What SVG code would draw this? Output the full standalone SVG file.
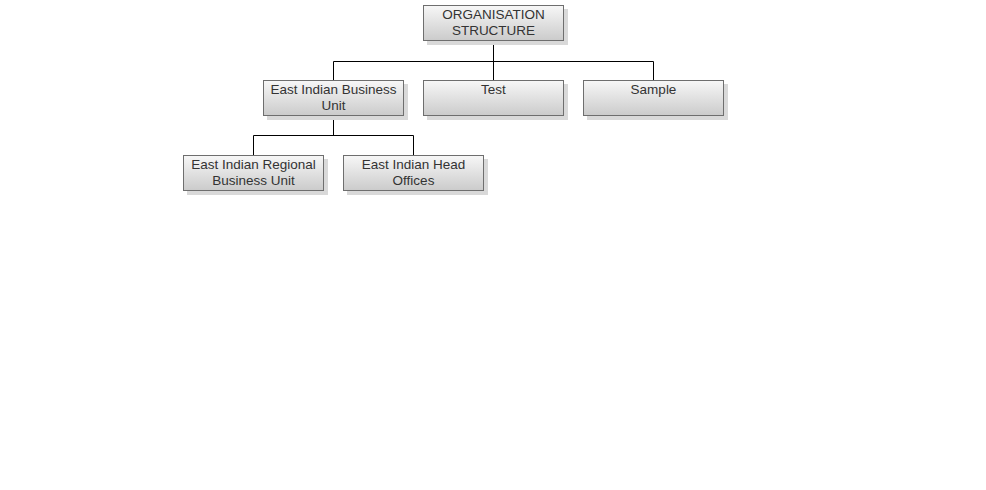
<svg xmlns="http://www.w3.org/2000/svg" width="986" height="490" viewBox="0 0 986 490">
<defs>
<linearGradient id="g" x1="0" y1="0" x2="0" y2="1">
<stop offset="0" stop-color="#f7f7f7"/>
<stop offset="1" stop-color="#cbcbcb"/>
</linearGradient>
<style>
.sh{fill:#d9d9d9}
.bx{fill:url(#g);stroke:#6e6e6e;stroke-width:1}
.t{font-family:"Liberation Sans",Arial,sans-serif;font-size:13.5px;fill:#333;text-anchor:middle}
.c{fill:none;stroke:#000;stroke-width:1}
</style>
</defs>
<rect width="986" height="490" fill="#fff"/>
<g id="connectors">
<path class="c" d="M493.5 41V61.5M333.5 80V61.5H653.5V80M493.5 61.5V80"/>
<path class="c" d="M333.5 116V135.5M253.5 155V135.5H413.5V155"/>
</g>
<g id="n-org">
<rect class="sh" x="427" y="9" width="141" height="36"/>
<rect class="bx" x="423.5" y="5.5" width="140" height="35"/>
<text class="t" x="493.5" y="19.3">ORGANISATION</text>
<text class="t" x="493.5" y="34.6">STRUCTURE</text>
</g>
<g id="n-eibu">
<rect class="sh" x="267" y="84" width="141" height="36"/>
<rect class="bx" x="263.5" y="80.5" width="140" height="35"/>
<text class="t" x="333.5" y="94.3">East Indian Business</text>
<text class="t" x="333.5" y="109.6">Unit</text>
</g>
<g id="n-test">
<rect class="sh" x="427" y="84" width="141" height="36"/>
<rect class="bx" x="423.5" y="80.5" width="140" height="35"/>
<text class="t" x="493.5" y="94.3">Test</text>
</g>
<g id="n-sample">
<rect class="sh" x="587" y="84" width="141" height="36"/>
<rect class="bx" x="583.5" y="80.5" width="140" height="35"/>
<text class="t" x="653.5" y="94.3">Sample</text>
</g>
<g id="n-eirbu">
<rect class="sh" x="187" y="159" width="141" height="36"/>
<rect class="bx" x="183.5" y="155.5" width="140" height="35"/>
<text class="t" x="253.5" y="169.3">East Indian Regional</text>
<text class="t" x="253.5" y="184.6">Business Unit</text>
</g>
<g id="n-eiho">
<rect class="sh" x="347" y="159" width="141" height="36"/>
<rect class="bx" x="343.5" y="155.5" width="140" height="35"/>
<text class="t" x="413.5" y="169.3">East Indian Head</text>
<text class="t" x="413.5" y="184.6">Offices</text>
</g>
</svg>
